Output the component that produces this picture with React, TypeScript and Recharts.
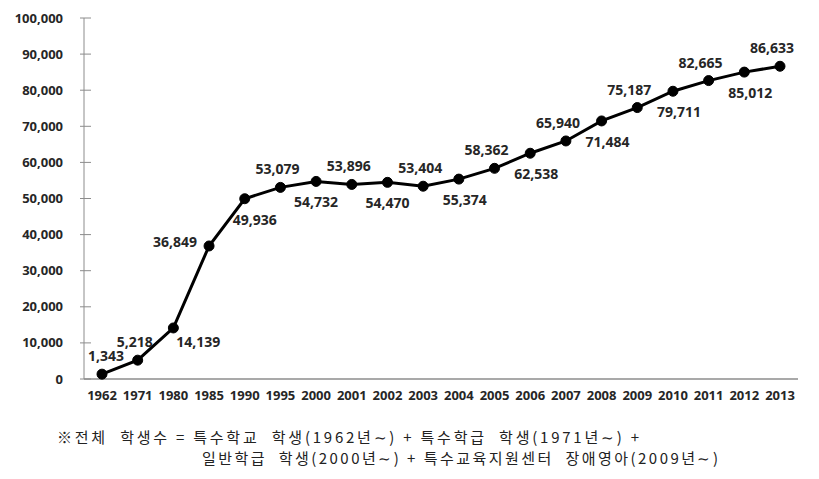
import { LineChart, Line, XAxis, YAxis, LabelList } from 'recharts';

const years = ['1962', '1971', '1980', '1985', '1990', '1995', '2000', '2001', '2002', '2003', '2004', '2005', '2006', '2007', '2008', '2009', '2010', '2011', '2012', '2013'];
const students = [1343, 5218, 14139, 36849, 49936, 53079, 54732, 53896, 54470, 53404, 55374, 58362, 62538, 65940, 71484, 75187, 79711, 82665, 85012, 86633];
const yTicks = [0, 10000, 20000, 30000, 40000, 50000, 60000, 70000, 80000, 90000, 100000];
const labelPlacement = ['topRight', 'top', 'bottomRight', 'left', 'bottomRight', 'top', 'bottom', 'top', 'bottom', 'top', 'bottom', 'top', 'bottom', 'top', 'bottom', 'top', 'bottom', 'top', 'bottom', 'top'];
const noteLines = [
  '※전체  학생수 = 특수학교  학생(1962년∼) + 특수학급  학생(1971년∼) +',
  '일반학급  학생(2000년∼) + 특수교육지원센터  장애영아(2009년∼)',
];

const data = years.map((year, i) => ({ year, value: students[i] }));

const NUM_FONT = "'Open Sans', 'DejaVu Sans', sans-serif";
const KR_FONT = "'Noto Sans CJK KR', sans-serif";
const AXIS = '#8c8c8c';
const TICK_MARGIN = 21;

const fmt = (v: number) => v.toLocaleString('en-US');

function YTick(props: any) {
  const { x, y, payload } = props;
  const axisX = x + TICK_MARGIN;
  return (
    <g>
      <line x1={axisX - 4} x2={axisX + 7} y1={y} y2={y} stroke={AXIS} strokeWidth={1} />
      <text x={x} y={y} dy={4.5} textAnchor="end" fontFamily={NUM_FONT} fontWeight="bold" fontSize={13} fill="#262626">
        {fmt(payload.value)}
      </text>
    </g>
  );
}

function PointLabel(props: any) {
  const { x, y, value, index } = props;
  const place = labelPlacement[index];
  let dx = 0;
  let dy = 0;
  let anchor: 'middle' | 'end' = 'middle';
  if (place === 'top') { dx = index > 9 ? -8 : -3; dy = -18; }
  else if (place === 'bottom') { dx = index > 9 ? 6 : 0; dy = 21; }
  else if (place === 'topRight') { dx = 4; dy = -18; }
  else if (place === 'bottomRight') { dx = index === 2 ? 25 : 10; dy = index === 2 ? 14 : 21; }
  else if (place === 'left') { dx = -12; dy = -4; anchor = 'end'; }
  return (
    <text x={x + dx} y={y + dy} dy={5} textAnchor={anchor} fontFamily={NUM_FONT} fontWeight="bold" fontSize={14} fill="#262626">
      {fmt(value)}
    </text>
  );
}

export default function App() {
  return (
    <div style={{ position: 'absolute', left: 0, top: 0, width: 819, height: 479, background: '#fff' }}>
      <LineChart width={819} height={420} data={data} margin={{ top: 18, right: 21, bottom: 11, left: 0 }}>
        <XAxis
          dataKey="year"
          axisLine={{ stroke: AXIS, strokeWidth: 1.5 }}
          tickLine={false}
          tickSize={0}
          tickMargin={12}
          interval={0}
          height={30}
          padding={{ left: 18, right: 18 }}
          tick={{ fontFamily: NUM_FONT, fontWeight: 'bold', fontSize: 13, fill: '#262626' }}
        />
        <YAxis
          domain={[0, 100000]}
          ticks={yTicks}
          width={84}
          axisLine={{ stroke: AXIS, strokeWidth: 1 }}
          tickLine={false}
          tickSize={0}
          tickMargin={TICK_MARGIN}
          tick={<YTick />}
          interval={0}
        />
        <Line
          type="linear"
          dataKey="value"
          stroke="#000"
          strokeWidth={3}
          dot={{ r: 5, fill: '#000', stroke: '#000', strokeWidth: 1 }}
          isAnimationActive={false}
        >
          <LabelList dataKey="value" content={<PointLabel />} />
        </Line>
      </LineChart>
      <svg width={819} height={59} style={{ position: 'absolute', left: 0, top: 420 }}>
        <text x={57} y={23} fontFamily={KR_FONT} fontSize={15} fill="#222" textLength={582} lengthAdjust="spacing" style={{ whiteSpace: 'pre' }}>
          {noteLines[0]}
        </text>
        <text x={202} y={44} fontFamily={KR_FONT} fontSize={15} fill="#222" textLength={516} lengthAdjust="spacing" style={{ whiteSpace: 'pre' }}>
          {noteLines[1]}
        </text>
      </svg>
    </div>
  );
}
